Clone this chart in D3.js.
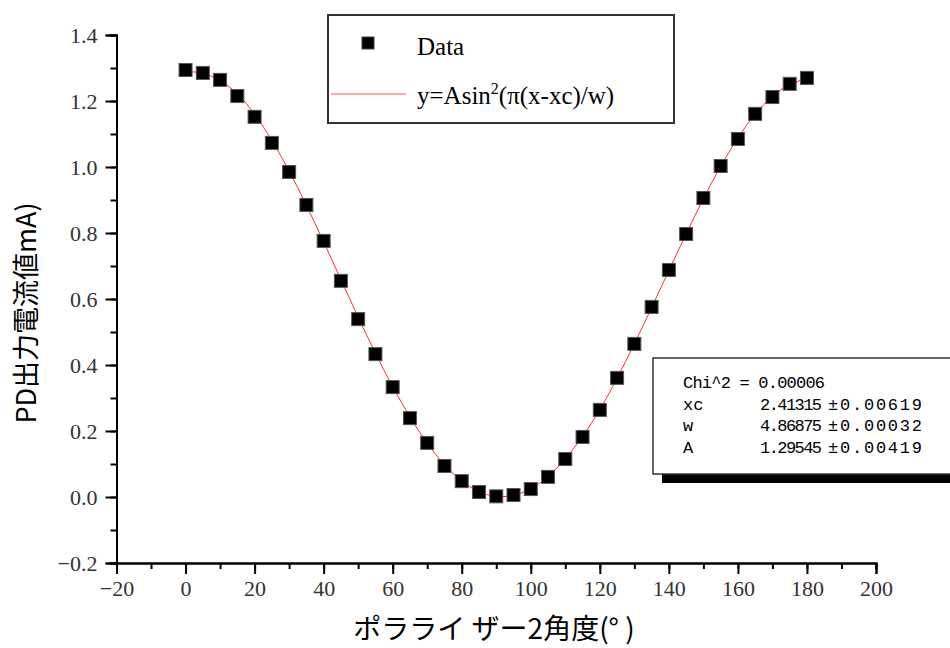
<!DOCTYPE html>
<html>
<head>
	<meta http-equiv="Content-Type" content="text/html; charset=utf-8"/>
	<title>PD</title>
	<style>
		body { margin: 0; background: #fff; }
		.axis path, .axis line { stroke: #000; stroke-width: 2; }
		.fit text { font-family: "Liberation Mono", "DejaVu Sans Mono", monospace; font-size: 17px; fill: #000; }
	</style>
</head>
<body>
	<svg width="950" height="648" id="viz"></svg>

	<script src="https://cdn.jsdelivr.net/npm/d3@7"></script>
	<script>
		//Datos
		var angulos = [0, 5, 10, 15, 20, 25, 30, 35, 40, 45, 50, 55, 60, 65, 70, 75, 80, 85, 90,
			95, 100, 105, 110, 115, 120, 125, 130, 135, 140, 145, 150, 155, 160, 165, 170, 175, 180];
		var corriente = [1.294, 1.285, 1.264, 1.215, 1.152, 1.073, 0.985, 0.885, 0.776, 0.655, 0.539, 0.433,
			0.333, 0.239, 0.164, 0.094, 0.048, 0.015, 0.002, 0.006, 0.024, 0.061, 0.115, 0.182, 0.264,
			0.361, 0.464, 0.576, 0.688, 0.797, 0.906, 1.003, 1.085, 1.161, 1.212, 1.252, 1.270];
		// curva de ajuste
		var ajuste = [1.290, 1.284, 1.262, 1.222, 1.160, 1.080, 0.988, 0.884, 0.773, 0.659, 0.545, 0.436,
			0.334, 0.243, 0.163, 0.098, 0.049, 0.016, 0.002, 0.005, 0.025, 0.062, 0.116, 0.184, 0.265,
			0.360, 0.464, 0.574, 0.686, 0.797, 0.904, 1.002, 1.088, 1.160, 1.214, 1.250, 1.268];
		var xTicks = [-20, 0, 20, 40, 60, 80, 100, 120, 140, 160, 180, 200];
		var yTicks = [-0.2, 0.0, 0.2, 0.4, 0.6, 0.8, 1.0, 1.2, 1.4];
		var parametros = [
			["Chi^2 = 0.00006", "", ""],
			["xc", "2.41315", "±0.00619"],
			["w", "4.86875", "±0.00032"],
			["A", "1.29545", "±0.00419"]
		];

		//Escalas
		const x = d3.scaleLinear().domain([-20, 200]).range([116.5, 876]);
		const y = d3.scaleLinear().domain([-0.2, 1.4]).range([563, 35]);

		var svg = d3.select("#viz");

		//Eje x
		svg.append("g").attr("class", "axis")
			.attr("transform", "translate(0,563)")
			.call(d3.axisBottom(x).tickValues(d3.range(-20, 201, 10)).tickSize(6).tickFormat(""));
		svg.append("g").attr("class", "axis")
			.attr("transform", "translate(0,563)")
			.call(d3.axisBottom(x).tickValues(xTicks).tickSize(11).tickPadding(6).tickFormat(d3.format("d")));

		//Eje y
		svg.append("g").attr("class", "axis")
			.attr("transform", "translate(116.5,0)")
			.call(d3.axisLeft(y).tickValues(d3.range(-2, 15).map(d => d / 10)).tickSize(6).tickFormat(""));
		svg.append("g").attr("class", "axis")
			.attr("transform", "translate(116.5,0)")
			.call(d3.axisLeft(y).tickValues(yTicks).tickSize(11).tickPadding(8).tickFormat(d3.format(".1f")));

		svg.selectAll(".axis").attr("font-family", null).attr("font-size", null);
		svg.selectAll(".axis .tick text")
			.attr("font-family", "'Liberation Serif', 'DejaVu Serif', serif")
			.attr("font-size", 22)
			.attr("fill", "#333");

		//Titulos
		svg.append("text")
			.attr("transform", "translate(36,313) rotate(-90)")
			.attr("text-anchor", "middle")
			.style("font-family", "'Noto Sans CJK JP', sans-serif")
			.style("font-size", "27px")
			.text("PD出力電流値mA)");

		svg.append("text")
			.attr("x", 494).attr("y", 639)
			.attr("text-anchor", "middle")
			.style("font-family", "'Noto Sans CJK JP', sans-serif")
			.style("font-size", "28px")
			.text("ポラライ ザー2角度(° )");

		//Curva de ajuste
		var linea = d3.line()
			.x((d, i) => x(angulos[i]))
			.y(d => y(d))
			.curve(d3.curveCatmullRom);
		svg.append("path")
			.attr("d", linea(ajuste))
			.attr("fill", "none")
			.attr("stroke", "#ff3030")
			.attr("stroke-width", 1);

		//Puntos
		var s = 13;
		svg.selectAll("rect.pt")
			.data(corriente)
			.enter()
			.append("rect")
			.attr("class", "pt")
			.attr("x", (d, i) => x(angulos[i]) - s / 2)
			.attr("y", d => y(d) - s / 2)
			.attr("width", s)
			.attr("height", s)
			.attr("fill", "#000")
			.attr("stroke", "#555")
			.attr("stroke-width", 1);

		//Leyenda
		var leg = svg.append("g");
		leg.append("rect")
			.attr("x", 328).attr("y", 15).attr("width", 346).attr("height", 108)
			.attr("fill", "#fff").attr("stroke", "#333").attr("stroke-width", 2);
		leg.append("rect")
			.attr("x", 362).attr("y", 37).attr("width", 12).attr("height", 12)
			.attr("fill", "#000").attr("stroke", "#444");
		leg.append("text")
			.attr("x", 417).attr("y", 55)
			.style("font-family", "'Liberation Serif', serif")
			.style("font-size", "25px")
			.text("Data");
		leg.append("line")
			.attr("x1", 331).attr("x2", 406).attr("y1", 94).attr("y2", 94)
			.attr("stroke", "#ff5050").attr("stroke-width", 1);
		var f = leg.append("text")
			.attr("x", 417).attr("y", 104)
			.style("font-family", "'Liberation Serif', serif")
			.style("font-size", "25px");
		f.append("tspan").text("y=Asin");
		f.append("tspan").attr("dy", -10).style("font-size", "16px").text("2");
		f.append("tspan").attr("dy", 10).text("(π(x-xc)/w)");

		//Caja de parametros
		var caja = svg.append("g").attr("class", "fit");
		caja.append("rect")
			.attr("x", 662).attr("y", 366).attr("width", 300).attr("height", 117)
			.attr("fill", "#000");
		caja.append("rect")
			.attr("x", 653).attr("y", 358).attr("width", 300).attr("height", 116)
			.attr("fill", "#fff").attr("stroke", "#333").attr("stroke-width", 1.5);
		parametros.forEach(function(p, i) {
			var yy = 388 + i * 21.7;
			caja.append("text").attr("x", 683).attr("y", yy)
				.attr("textLength", i == 0 ? 142 : null).attr("lengthAdjust", "spacing").text(p[0]);
			if (p[1]) caja.append("text").attr("x", 760).attr("y", yy)
				.attr("textLength", 62).attr("lengthAdjust", "spacing").text(p[1]);
			if (p[2]) caja.append("text").attr("x", 828).attr("y", yy)
				.attr("textLength", 94).attr("lengthAdjust", "spacing").text(p[2]);
		});
	</script>
</body>
</html>
